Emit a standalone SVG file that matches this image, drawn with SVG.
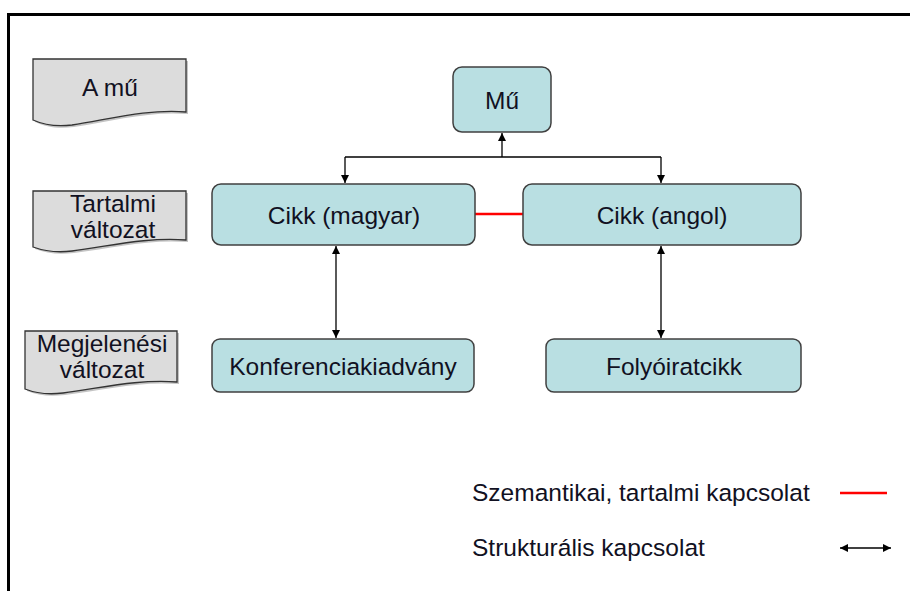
<svg xmlns="http://www.w3.org/2000/svg" width="910" height="591" viewBox="0 0 910 591">
<defs>
<style>
text{font-family:"Liberation Sans",Arial,sans-serif;font-size:24.5px;fill:#111122;text-anchor:middle}
.node{fill:#b9dfe2;stroke:#404040;stroke-width:1.5}
.doc{fill:#dcdcdc;stroke:#333;stroke-width:1.3}
.shadow{fill:#c4c4c4}
.conn{stroke:#000;stroke-width:1.3;fill:none}
.red{stroke:#ff0000;stroke-width:2.5;fill:none}
</style>
<marker id="ah" viewBox="0 0 10 10" refX="10" refY="5" markerWidth="8" markerHeight="8" orient="auto-start-reverse" markerUnits="userSpaceOnUse">
<path d="M0,0 L10,5 L0,10 z" fill="#000"/>
</marker>
</defs>
<rect width="910" height="591" fill="#fff"/>
<path d="M8.5,591 V14.5 H910" fill="none" stroke="#000" stroke-width="3"/>

<g id="label-amu">
<path class="shadow" d="M35,61 H188 V114 C148,111 113,121 74,127 C58,129 46,127 35,122 Z"/>
<path class="doc" d="M33,59 H186 V112 C146,109 111,119 72,125 C56,127 44,125 33,120 Z"/>
<text x="110" y="96">A mű</text>
</g>
<g id="label-tartalmi">
<path class="shadow" d="M35,193 H188 V242 C148,239 113,248 74,253 C58,255 46,253 35,249 Z"/>
<path class="doc" d="M33,191 H186 V240 C146,237 111,246 72,251 C56,253 44,251 33,247 Z"/>
<text x="113" y="212">Tartalmi</text>
<text x="113" y="238">változat</text>
</g>
<g id="label-megjelenesi">
<path class="shadow" d="M27,333 H179 V384 C139,381 104,390 65,395 C49,397 37,395 27,391 Z"/>
<path class="doc" d="M25,331 H177 V382 C137,379 102,388 63,393 C47,395 35,393 25,389 Z"/>
<text x="102" y="352">Megjelenési</text>
<text x="102" y="378">változat</text>
</g>

<g id="connectors">
<line class="conn" x1="502" y1="157" x2="502" y2="133" marker-end="url(#ah)"/>
<line class="conn" x1="345" y1="157" x2="661" y2="157"/>
<line class="conn" x1="345" y1="157" x2="345" y2="183" marker-end="url(#ah)"/>
<line class="conn" x1="661" y1="157" x2="661" y2="183" marker-end="url(#ah)"/>
<line class="red" x1="475" y1="214" x2="523" y2="214"/>
<line class="conn" x1="336" y1="246" x2="336" y2="338" marker-start="url(#ah)" marker-end="url(#ah)"/>
<line class="conn" x1="661" y1="246" x2="661" y2="338" marker-start="url(#ah)" marker-end="url(#ah)"/>
</g>

<g id="node-mu">
<rect class="node" x="453" y="67" width="98" height="65" rx="9"/>
<text x="502" y="109">Mű</text>
</g>
<g id="node-cikk-magyar">
<rect class="node" x="212" y="184" width="263" height="61" rx="9"/>
<text x="344" y="224">Cikk (magyar)</text>
</g>
<g id="node-cikk-angol">
<rect class="node" x="523" y="184" width="278" height="61" rx="9"/>
<text x="662" y="224">Cikk (angol)</text>
</g>
<g id="node-konferencia">
<rect class="node" x="212" y="339" width="262" height="53" rx="8"/>
<text x="343" y="375">Konferenciakiadvány</text>
</g>
<g id="node-folyoirat">
<rect class="node" x="546" y="339" width="255" height="53" rx="8"/>
<text x="674" y="375">Folyóiratcikk</text>
</g>

<g id="legend">
<text x="472" y="501" style="text-anchor:start">Szemantikai, tartalmi kapcsolat</text>
<line class="red" x1="840" y1="493" x2="887" y2="493"/>
<text x="472" y="556" style="text-anchor:start">Strukturális kapcsolat</text>
<line class="conn" x1="840" y1="548" x2="891" y2="548" marker-start="url(#ah)" marker-end="url(#ah)"/>
</g>
</svg>
